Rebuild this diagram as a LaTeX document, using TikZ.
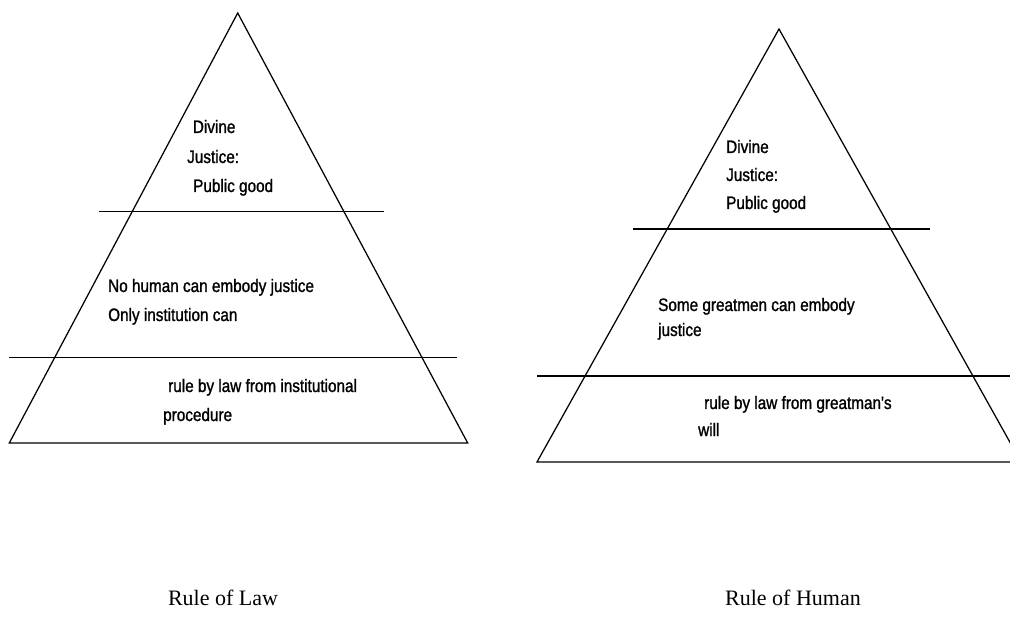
\documentclass[tikz,border=0pt]{standalone}
\usepackage{fontspec}
\setmainfont{Liberation Serif}
\newfontfamily\arialn[FakeStretch=0.85,FakeBold=1.2]{Liberation Sans}
\begin{document}
\begin{tikzpicture}[x=1pt,y=-1pt,
  edge/.style={line width=1.25pt, black},
  lbl/.style={anchor=base west, inner sep=0pt, font=\arialn\fontsize{18}{18}\selectfont},
  ttl/.style={anchor=base, inner sep=0pt, font=\fontsize{22}{22}\selectfont}]
\useasboundingbox (0,0) rectangle (1010,628);
\clip (0,0) rectangle (1010,628);
% ---- left pyramid
\coordinate (LA) at (237.7,13);
\coordinate (LB) at (9.3,443);
\coordinate (LC) at (467.7,443);
\draw[edge] (LA) -- (LB) -- (LC) -- cycle;
\coordinate (L1a) at (99,211.7);
\coordinate (L1b) at (384,211.7);
\coordinate (L2a) at (9,357.7);
\coordinate (L2b) at (457,357.7);
\draw[edge] (L1a) -- (L1b);
\draw[edge] (L2a) -- (L2b);
\node[lbl] (l1) at (192.7,133) {Divine};
\node[lbl] (l2) at (187,163) {Justice:};
\node[lbl] (l3) at (193,192) {Public good};
\node[lbl] (l4) at (108,292) {No human can embody justice};
\node[lbl] (l5) at (108,321) {Only institution can};
\node[lbl] (l6) at (168,392) {rule by law from institutional};
\node[lbl] (l7) at (163,421) {procedure};
% ---- right pyramid
\coordinate (RA) at (779,29);
\coordinate (RB) at (537,462);
\coordinate (RC) at (1021,462);
\draw[edge] (RA) -- (RB) -- (RC) -- cycle;
\coordinate (R1a) at (633,229);
\coordinate (R1b) at (930,229);
\coordinate (R2a) at (537,376);
\coordinate (R2b) at (1010,376);
\draw[edge] (R1a) -- (R1b);
\draw[edge] (R2a) -- (R2b);
\node[lbl] (r1) at (726,153) {Divine};
\node[lbl] (r2) at (726,181) {Justice:};
\node[lbl] (r3) at (726,209) {Public good};
\node[lbl] (r4) at (658,311) {Some greatmen can embody};
\node[lbl] (r5) at (658,336) {justice};
\node[lbl] (r6) at (704,409) {rule by law from greatman's};
\node[lbl] (r7) at (698,436) {will};
% ---- titles
\node[ttl] (t1) at (223,605) {Rule of Law};
\node[ttl] (t2) at (793,605) {Rule of Human};
\end{tikzpicture}
\end{document}
